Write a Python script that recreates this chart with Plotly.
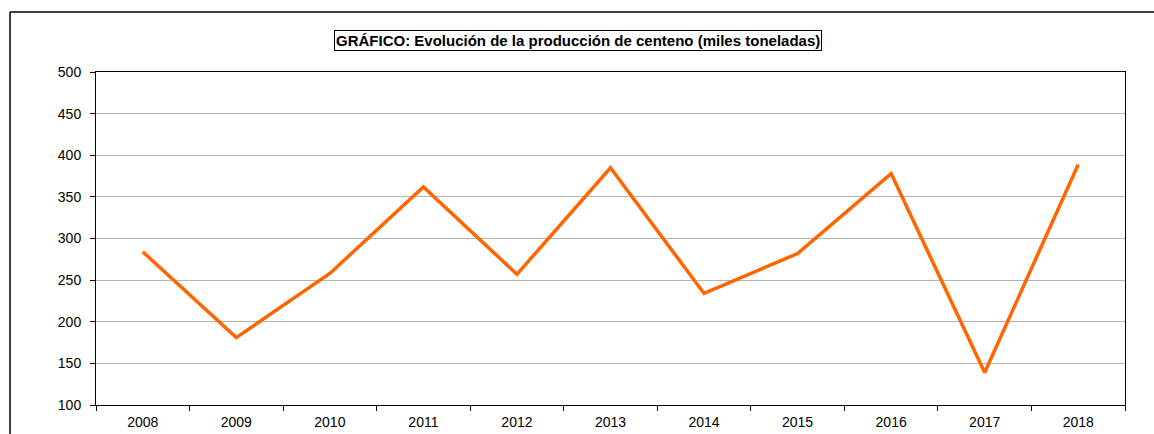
import plotly.graph_objects as go

years = ["2008", "2009", "2010", "2011", "2012", "2013", "2014", "2015", "2016", "2017", "2018"]
produccion = [284, 181, 258, 362, 257, 385, 234, 282, 378, 139, 389]
y_ticks = [100, 150, 200, 250, 300, 350, 400, 450, 500]
title_text = "GRÁFICO: Evolución de la producción de centeno (miles toneladas)"

fig = go.Figure()
fig.add_trace(go.Scatter(
    x=years, y=produccion, mode="lines",
    line=dict(color="#FF6600", width=3.5),
    hoverinfo="x+y", showlegend=False,
))

font_family = "Liberation Sans, Arial, sans-serif"

W, H = 1154, 434
L, R, T, B = 96, 29, 72, 29
pw, ph = W - L - R, H - T - B


def px_x(x):
    return (x - L) / pw


def px_y(y):
    return (H - B - y) / ph


fig.update_layout(
    width=W, height=H,
    margin=dict(l=L, r=R, t=T, b=B, autoexpand=False),
    paper_bgcolor="white", plot_bgcolor="white",
    font=dict(family=font_family, size=14, color="black"),
    xaxis=dict(
        type="category", tickson="boundaries",
        range=[-0.5, len(years) - 0.5],
        automargin=False,
        showline=True, linecolor="black", linewidth=1, mirror=True,
        ticks="outside", ticklen=5, tickcolor="black",
        ticklabelstandoff=4,
        showgrid=False, zeroline=False,
        tickfont=dict(size=14),
    ),
    yaxis=dict(
        range=[100, 500], tickvals=y_ticks,
        automargin=False,
        showline=True, linecolor="black", linewidth=1, mirror=True,
        ticks="outside", ticklen=5, tickcolor="black",
        ticklabelstandoff=6,
        showgrid=True, gridcolor="#b4b4b4", gridwidth=1,
        zeroline=False, tickfont=dict(size=14),
    ),
    annotations=[dict(
        text="<b>" + title_text + "</b>",
        xref="paper", yref="paper",
        x=px_x(578), y=px_y(40.5),
        xanchor="center", yanchor="middle",
        showarrow=False,
        font=dict(family=font_family, size=15, color="black"),
        bordercolor="black", borderwidth=1, borderpad=1, bgcolor="white",
    )],
    shapes=[
        dict(type="line", xref="paper", yref="paper",
             x0=px_x(10), x1=px_x(W + 5), y0=px_y(12), y1=px_y(12),
             line=dict(color="black", width=1.5), layer="below"),
        dict(type="line", xref="paper", yref="paper",
             x0=px_x(10), x1=px_x(10), y0=px_y(12), y1=px_y(H + 5),
             line=dict(color="black", width=1.5), layer="below"),
    ],
)

fig.write_html(
    "out.html",
    config={"displayModeBar": False},
    post_script="document.body.style.margin='0';document.body.style.overflow='hidden';",
)
